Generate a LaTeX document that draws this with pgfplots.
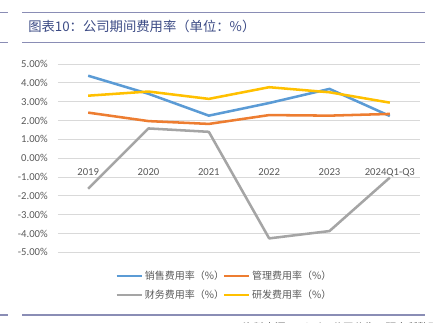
\documentclass[border=0pt]{standalone}
\usepackage{pgfplots}
\pgfplotsset{compat=1.18}
\usepackage{fontspec}
\setmainfont{Carlito}
\newfontfamily\cjk{Noto Sans CJK SC}
\definecolor{cSales}{HTML}{5B9BD5}
\definecolor{cMgmt}{HTML}{ED7D31}
\definecolor{cFin}{HTML}{A5A5A5}
\definecolor{cRD}{HTML}{FFC000}
\definecolor{gridc}{HTML}{D9D9D9}
\definecolor{txt}{HTML}{595959}
\definecolor{barline}{HTML}{8A8DB5}
\definecolor{titlec}{HTML}{3C4B85}
\begin{document}
\begin{tikzpicture}
\useasboundingbox (0pt,0pt) rectangle (324.75pt,242.25pt);
\clip (0pt,0pt) rectangle (324.75pt,242.25pt);
% title bar
\draw[barline, line width=1.1pt] (0pt,232.9pt) -- (6pt,232.9pt);
\draw[barline, line width=1.1pt] (16.5pt,232.9pt) -- (318.75pt,232.9pt);
\draw[barline, line width=1.1pt] (0pt,210.5pt) -- (6pt,210.5pt);
\draw[barline, line width=1.1pt] (16.5pt,210.5pt) -- (318.75pt,210.5pt);
\node[anchor=west, inner sep=0pt, text=titlec, font=\cjk\fontsize{10pt}{11pt}\selectfont] at (21pt,222.3pt) {图表10：公司期间费用率（单位：\%）};
% bottom line
\draw[barline, line width=1.1pt] (0pt,6pt) -- (6pt,6pt);
\draw[barline, line width=1.1pt] (16.5pt,6pt) -- (318.75pt,6pt);
\node[anchor=west, inner sep=0pt, text=txt, font=\cjk\fontsize{8pt}{9pt}\selectfont] at (182pt,-3.6pt) {资料来源：Wind，公司公告，研究所整理};
\begin{axis}[
  at={(43.5pt,53pt)}, anchor=south west,
  scale only axis, width=271.5pt, height=141.2pt,
  xmin=-0.5, xmax=5.5, ymin=-5, ymax=5,
  axis x line=middle, axis y line=left,
  axis line style={draw=none}, major tick length=0pt,
  hide obscured x ticks=false, hide obscured y ticks=false,
  xtick={0,1,2,3,4,5},
  xticklabels={2019,2020,2021,2022,2023,2024Q1-Q3},
  ytick={-5,-4,-3,-2,-1,0,1,2,3,4,5},
  yticklabel={\pgfmathprintnumber[fixed,fixed zerofill,precision=2]{\tick}\%},
  /pgf/number format/assume math mode=true,
  ymajorgrids, major grid style={gridc, line width=0.75pt},
  tick label style={font=\fontsize{8pt}{9pt}\selectfont, text=txt},
  xticklabel style={anchor=north, inner sep=0pt, yshift=-7.3pt},
  yticklabel style={anchor=east, inner sep=0pt, xshift=-7.5pt},
  every axis plot/.append style={line width=1.9pt, line join=round},
  legend columns=2,
  legend style={at={(0.1575,-0.099)}, anchor=north west, draw=none, fill=none,
    inner sep=0pt, row sep=6.75pt,
    font=\cjk\fontsize{7.5pt}{8pt}\selectfont, text=txt,
    nodes={inner sep=0pt, text height=6pt, text depth=1.5pt},
    /tikz/every odd column/.append style={column sep=1.5pt},
    /tikz/every even column/.append style={column sep=-1pt}},
  legend cell align=left,
  legend image code/.code={\draw[#1] (0pt,0pt) -- (18.75pt,0pt);},
]
\addplot[cSales] coordinates {(0,4.38) (1,3.42) (2,2.26) (3,2.93) (4,3.68) (5,2.24)};
\addlegendentry{销售费用率（\%）}
\addplot[cMgmt] coordinates {(0,2.42) (1,1.97) (2,1.82) (3,2.29) (4,2.26) (5,2.35)};
\addlegendentry{管理费用率（\%）}
\addplot[cFin] coordinates {(0,-1.62) (1,1.58) (2,1.40) (3,-4.26) (4,-3.87) (5,-1.03)};
\addlegendentry{财务费用率（\%）}
\addplot[cRD] coordinates {(0,3.32) (1,3.54) (2,3.15) (3,3.77) (4,3.50) (5,2.95)};
\addlegendentry{研发费用率（\%）}
\end{axis}
\end{tikzpicture}
\end{document}
